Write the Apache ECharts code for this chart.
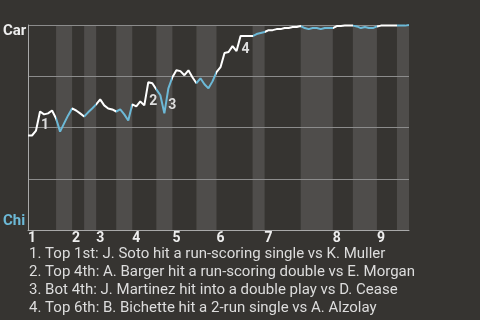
<!DOCTYPE html>
<html><head><meta charset="utf-8">
<script src="https://cdn.jsdelivr.net/npm/echarts@6/dist/echarts.min.js"></script>
<style>html,body{margin:0;padding:0;background:#363431;}#c{width:480px;height:320px;}</style>
</head><body><div id="c"></div>
<script>
// Win probability for Car (1 = Car wins, 0 = Chi wins), one value per play
const winProb = [
  0.461,0.461,0.485,0.578,0.564,0.569,0.583,0.544,0.480,0.520,
  0.559,0.593,0.583,0.569,0.554,0.574,0.593,0.613,0.637,0.608,
  0.593,0.588,0.578,0.588,0.564,0.534,0.613,0.603,0.627,0.608,
  0.721,0.716,0.686,0.657,0.569,0.691,0.745,0.779,0.775,0.755,
  0.779,0.745,0.716,0.740,0.711,0.691,0.725,0.770,0.794,0.863,
  0.868,0.897,0.873,0.946,0.946,0.946,0.946,0.956,0.961,0.966,
  0.975,0.975,0.980,0.980,0.985,0.985,0.990,0.990,0.995,0.985,
  0.980,0.985,0.985,0.980,0.985,0.985,0.985,0.995,0.995,0.997,
  0.997,0.997,0.993,0.985,0.990,0.985,0.985,0.993,0.997,0.997,
  0.997,0.997,0.997,0.997,0.997,1.000
];
// play index where each half-inning starts (Top 1, Bot 1, Top 2, ...)
const halfInningStarts = [0,7,11,14,17,22,26,32,36,42,47,56,59,68,76,81,87,92];
const lastPlay = 95;
const inningStarts = [0,11,17,26,36,47,59,76,87];
const inningLabels = ['1','2','3','4','5','6','7','8','9'];
const eventPlays = [3,30,35,53];
const eventLabels = ['1','2','3','4'];
const notes = [
  '1. Top 1st: J. Soto hit a run-scoring single vs K. Muller',
  '2. Top 4th: A. Barger hit a run-scoring double vs E. Morgan',
  '3. Bot 4th: J. Martinez hit into a double play vs D. Cease',
  '4. Top 6th: B. Bichette hit a 2-run single vs A. Alzolay'
];
const teamTop = 'Car';
const teamBottom = 'Chi';

// styling
const WHITE = '#ffffff', BLUE = '#6cb9d7', BAND = '#4f4d4b', BG = '#363431';
const labelOffsets = [[5,14],[5,19],[4,17],[5,13]];
const FONT = 'Roboto';

const pieces = halfInningStarts.map((s,i)=>{
  const e = i+1 < halfInningStarts.length ? halfInningStarts[i+1] : lastPlay;
  const p = {gte:s, color: i%2 ? BLUE : WHITE};
  if (i+1 < halfInningStarts.length) p.lt = e; else p.lte = e;
  return p;
});
const bands = [];
halfInningStarts.forEach((s,i)=>{
  if (i%2===1){
    const e = i+1 < halfInningStarts.length ? halfInningStarts[i+1] : lastPlay;
    bands.push([{xAxis:s},{xAxis:e}]);
  }
});

const chart = echarts.init(document.getElementById('c'), null, {renderer:'canvas'});
chart.setOption({
  backgroundColor: BG,
  animation: false,
  textStyle: {fontFamily: FONT},
  grid: {left:28, right:71, top:25, bottom:90},
  xAxis: {
    type:'value', min:0, max:lastPlay, z:1,
    splitLine:{show:false},
    axisTick:{show:false},
    axisLine:{show:true, lineStyle:{color:'#a9a9a9', width:1}},
    axisLabel:{
      show:true, customValues: inningStarts,
      formatter: v => inningLabels[inningStarts.indexOf(v)],
      align:'left', margin:1, color:'#eeeeee', fontWeight:'bold', fontSize:14, fontFamily:FONT
    }
  },
  yAxis: {
    type:'value', min:0, max:1, interval:0.25, z:1,
    axisLine:{show:true, lineStyle:{color:'#a9a9a9', width:1}},
    axisTick:{show:false},
    axisLabel:{show:false},
    splitLine:{show:true, lineStyle:{color:'#8c8c8c', width:1}}
  },
  visualMap: {
    type:'piecewise', show:false, dimension:0, seriesIndex:1, pieces: pieces
  },
  series: [
    {
      type:'line', data: winProb.map((v,i)=>[i,v]), symbol:'none', silent:true, z:0,
      lineStyle:{opacity:0}, itemStyle:{color:'transparent'},
      markArea:{silent:true, z:0, itemStyle:{color:BAND}, data:bands}
    },
    {
      type:'line', data: winProb.map((v,i)=>[i,v]), symbol:'none', z:2,
      lineStyle:{width:2},
      markPoint:{
        symbol:'circle', symbolSize:0, silent:true,
        data: eventPlays.map((p,i)=>({
          name: eventLabels[i], coord:[p, winProb[p]],
          label:{show:true, position:'inside', offset: labelOffsets[i], formatter: eventLabels[i],
            color:'#dddddd', fontWeight:'bold', fontSize:14, fontFamily:FONT}
        }))
      }
    }
  ],
  graphic: [
    {type:'text', left:3, top:24, style:{text:teamTop, fill:'#eeeeee', font:'bold 15px Roboto'}},
    {type:'text', left:3, top:214, style:{text:teamBottom, fill:BLUE, font:'bold 15px Roboto'}},
    {type:'text', left:29, top:245, style:{text:notes.join('\n'), fill:'#dddddd', font:'15px Roboto', lineHeight:18}}
  ]
});
</script></body></html>
